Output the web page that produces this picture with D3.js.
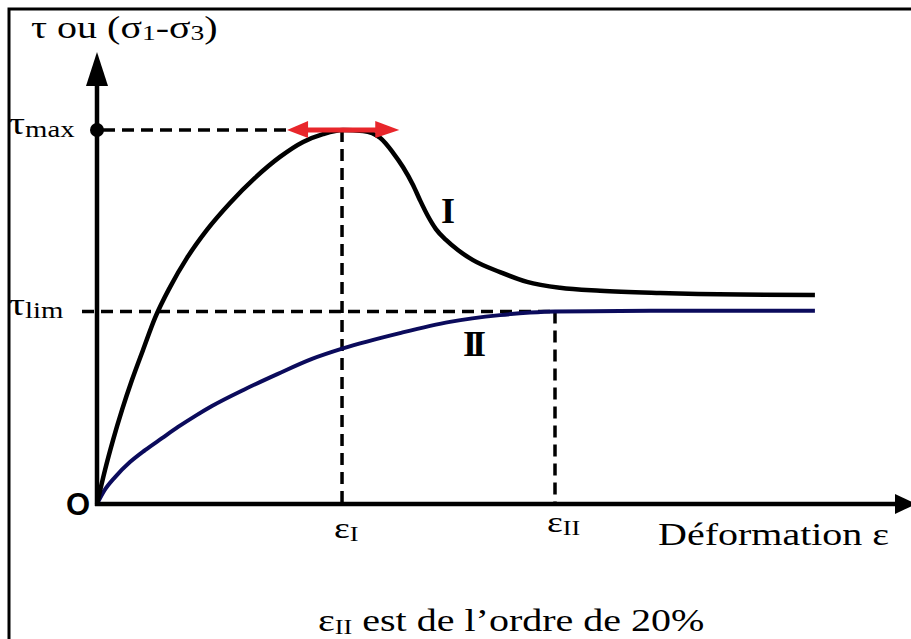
<!DOCTYPE html>
<html>
<head>
<meta charset="utf-8">
<script src="https://cdn.jsdelivr.net/npm/d3@7"></script>
<style>
  html, body { margin: 0; padding: 0; background: #fff; }
  svg { display: block; }
  .serif { font-family: "Liberation Serif", "Times New Roman", serif; fill: #000; }
</style>
</head>
<body>
<svg id="chart" width="911" height="639"></svg>
<script>
// Strain (%) and shear stress (% of tau max) for the two behaviour curves
const curveIStrain = [0, 0.35, 0.70, 1.09, 1.53, 2.01, 2.53, 3.19, 3.93, 4.80, 5.81, 6.90, 7.99, 9.00, 9.87, 10.74, 11.62, 12.36, 12.93, 13.36, 13.80, 14.10, 14.45, 14.80, 15.24, 15.76, 16.42, 17.60, 18.78, 20.22, 21.97, 24.59, 28.08, 31.35];
const curveIStress = [0, 9.1, 17.1, 25.1, 33.2, 41.2, 49.7, 58.0, 65.8, 73.3, 80.5, 87.2, 92.8, 96.8, 98.9, 100, 99.7, 97.9, 93.9, 90.1, 85.3, 81.3, 77.0, 73.5, 70.6, 67.9, 65.2, 62.0, 59.4, 57.8, 57.0, 56.4, 56.0, 55.9];
const curveIIStrain = [0, 0.31, 0.79, 1.44, 2.10, 2.84, 3.54, 4.28, 5.02, 6.46, 7.90, 9.39, 10.74, 13.23, 15.41, 17.60, 18.91, 20.0, 22.84, 26.33, 31.35];
const curveIIStress = [0, 3.5, 7.2, 11.2, 14.4, 17.6, 20.6, 23.5, 26.2, 30.7, 34.8, 38.8, 41.6, 45.7, 48.7, 50.5, 51.2, 51.5, 51.6, 51.7, 51.7];

// Characteristic values
const tauMax = 100;
const tauLim = 51.5;
const epsI = 10.7;
const epsII = 20;
const peakRange = [8.3, 13.2];

// Text
const yTitle = ["τ ou (σ", "1", "-σ", "3", ")"];
const tauLabels = [{ base: "τ", sub: "max", v: tauMax }, { base: "τ", sub: "lim", v: tauLim }];
const epsLabels = [{ base: "ε", sub: "I", v: epsI }, { base: "ε", sub: "II", v: epsII }];
const xTitle = "Déformation ε";
const note = ["ε", "II", " est de l’ordre de 20%"];
const curveNames = ["I", "II"];

const svg = d3.select("#chart");
const W = 911, H = 639;
const stretch = 1.25; // wide serif lettering

const x = d3.scaleLinear().domain([0, epsII]).range([97, 555]);
const y = d3.scaleLinear().domain([0, tauMax]).range([504, 130]);

svg.append("rect").attr("width", W).attr("height", H).attr("fill", "#fff");

// Frame (top and left edges)
svg.append("path")
  .attr("d", `M9,${H} L9,9 L${W},9`)
  .attr("fill", "none").attr("stroke", "#000").attr("stroke-width", 3);

const dash = "12,7";
function refLine(x1, y1, x2, y2) {
  svg.append("line").attr("x1", x1).attr("y1", y1).attr("x2", x2).attr("y2", y2)
    .attr("stroke", "#000").attr("stroke-width", 3.5).attr("stroke-dasharray", dash);
}
refLine(x(0) + 6, y(tauMax), x(epsI), y(tauMax));
refLine(x(epsI), y(tauMax), x(epsI), y(0));
refLine(x(0) - 15, y(tauLim), x(epsII), y(tauLim));
refLine(x(epsII), y(tauLim), x(epsII), y(0));

// Curves
const line = d3.line().x(d => x(d[0])).y(d => y(d[1])).curve(d3.curveMonotoneX);
const dataI = curveIStrain.map((s, i) => [s, curveIStress[i]]);
const dataII = curveIIStrain.map((s, i) => [s, curveIIStress[i]]);

svg.append("path").attr("d", line(dataII))
  .attr("fill", "none").attr("stroke", "#0b0b5c").attr("stroke-width", 4);
svg.append("path").attr("d", line(dataI))
  .attr("fill", "none").attr("stroke", "#000").attr("stroke-width", 4.5);

// Axes with arrow heads
const x0 = x(0), y0 = y(0);
svg.append("line").attr("x1", x0).attr("x2", x0).attr("y1", y0 + 2).attr("y2", 80)
  .attr("stroke", "#000").attr("stroke-width", 4.5);
svg.append("path").attr("d", `M${x0},52 L${x0 + 11},86 L${x0 - 11},86 Z`).attr("fill", "#000");
svg.append("line").attr("x1", x0 - 2).attr("x2", 898).attr("y1", y0).attr("y2", y0)
  .attr("stroke", "#000").attr("stroke-width", 4.5);
svg.append("path").attr("d", `M916,${y0} L895,${y0 - 10} L895,${y0 + 10} Z`).attr("fill", "#000");

// Peak marker on the y axis
svg.append("circle").attr("cx", x0).attr("cy", y(tauMax)).attr("r", 7).attr("fill", "#000");

// Red double arrow around the peak
const ra = x(peakRange[0]), rb = x(peakRange[1]), ry = y(tauMax);
svg.append("line").attr("x1", ra + 12).attr("x2", rb - 12).attr("y1", ry).attr("y2", ry)
  .attr("stroke", "#e8262b").attr("stroke-width", 5);
svg.append("path").attr("d", `M${ra},${ry} L${ra + 21},${ry - 9} L${ra + 21},${ry + 8} Z`).attr("fill", "#e8262b");
svg.append("path").attr("d", `M${rb},${ry} L${rb - 24},${ry - 9} L${rb - 24},${ry + 8} Z`).attr("fill", "#e8262b");

// Text helper: stretched serif text anchored at (tx, ty)
function label(tx, ty, size) {
  return svg.append("text").attr("class", "serif")
    .attr("transform", `translate(${tx},${ty}) scale(${stretch},1)`)
    .style("font-size", size + "px");
}

// Y axis title
const t = label(31, 38, 32);
yTitle.forEach((s, i) => {
  const sp = t.append("tspan").text(s);
  if (i % 2 === 1) sp.style("font-size", "22px").attr("dy", 2);
  else if (i > 0) sp.attr("dy", -2);
});

// Tau labels
tauLabels.forEach(d => {
  const tx = label(9, y(d.v) + 4, 32);
  tx.append("tspan").text(d.base);
  tx.append("tspan").text(d.sub).style("font-size", "23px").attr("dy", 3);
});

// Strain labels
epsLabels.forEach((d, i) => {
  const tx = label(x(d.v) - 8, i === 0 ? 538 : 532, 30);
  tx.append("tspan").text(d.base);
  tx.append("tspan").text(d.sub).style("font-size", "21px").attr("dy", 3);
});

// Origin
svg.append("text").attr("x", x0 - 31).attr("y", y0 + 11)
  .style("font-family", "Liberation Sans, Arial, sans-serif").style("font-weight", "bold").style("font-size", "31px")
  .text("O");

// X axis title
label(658, 545, 32).text(xTitle);

// Curve names
svg.append("text").attr("class", "serif").attr("x", 441).attr("y", 223)
  .style("font-size", "36px").style("font-weight", "bold").text(curveNames[0]);
svg.append("text").attr("class", "serif").attr("x", 463).attr("y", 356)
  .style("font-size", "36px").style("font-weight", "bold").style("letter-spacing", "-5px").text(curveNames[1]);

// Note
const n = label(318, 631, 32);
n.append("tspan").text(note[0]);
n.append("tspan").text(note[1]).style("font-size", "21px").attr("dy", 3);
n.append("tspan").text(note[2]).attr("dy", -3);
</script>
</body>
</html>
